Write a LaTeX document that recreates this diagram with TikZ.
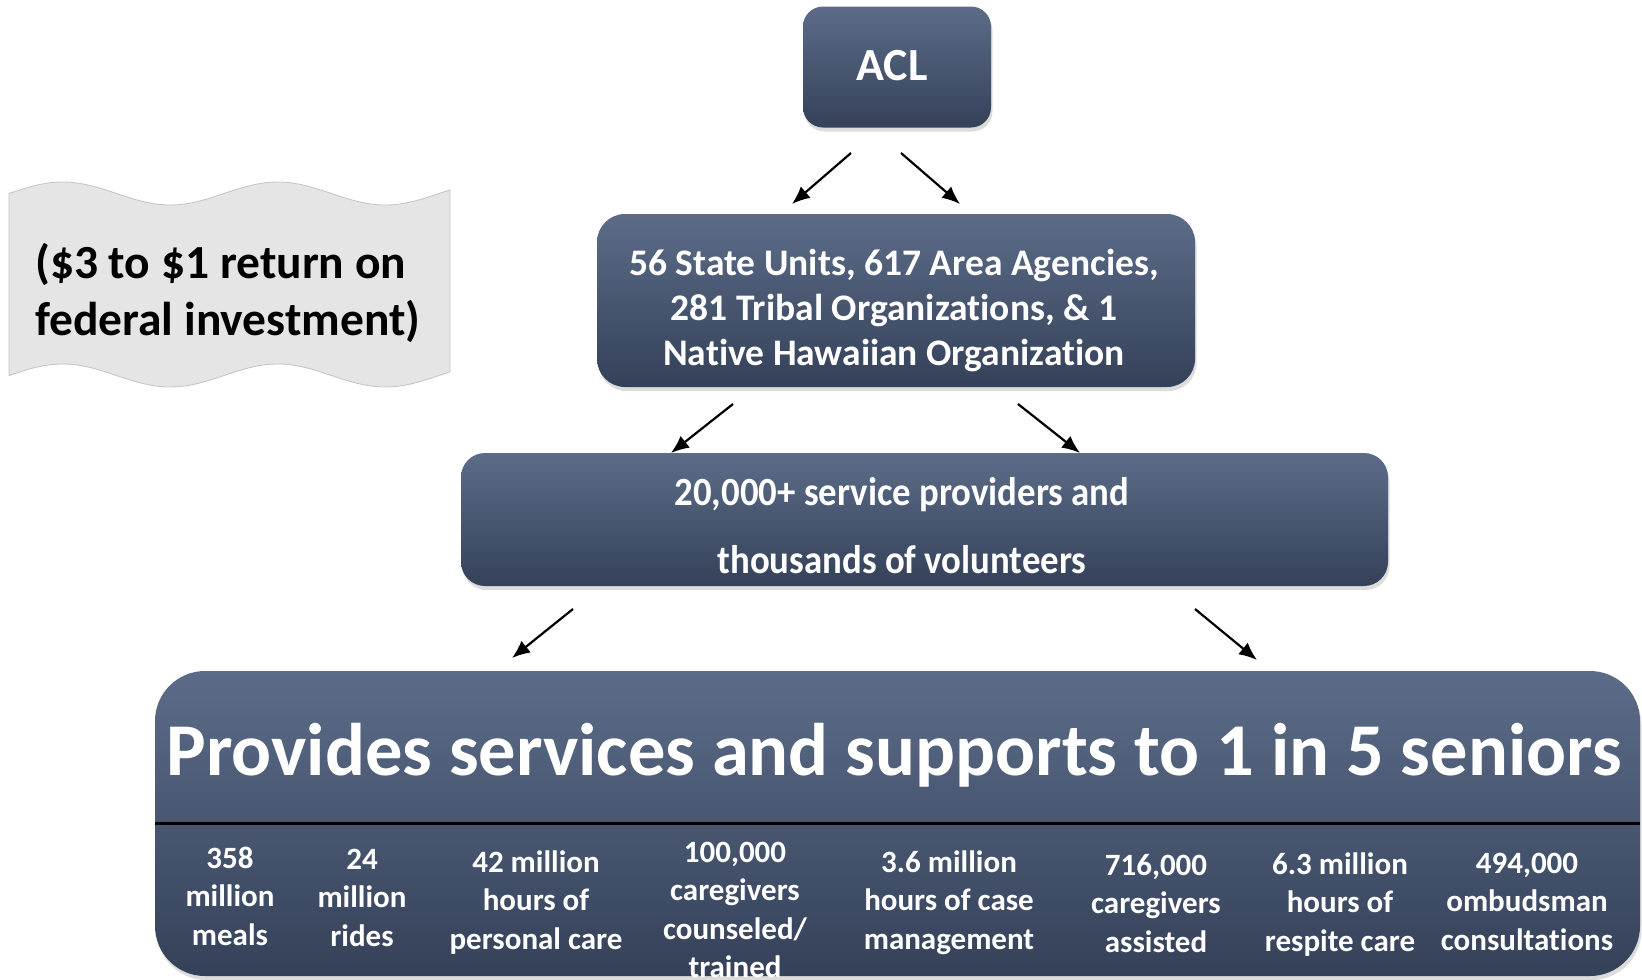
\documentclass[tikz,border=0pt]{standalone}
\usepackage{fontspec}
\setmainfont{Carlito}[Ligatures=NoCommon]
\newfontfamily\condfont{Carlito}[FakeStretch=0.92,Ligatures=NoCommon]
\usetikzlibrary{arrows.meta,shadows}
\definecolor{boxtop}{RGB}{92,108,136}
\definecolor{boxbot}{RGB}{53,65,89}
\definecolor{flaggray}{RGB}{229,229,229}
\definecolor{flagedge}{RGB}{195,195,195}
\tikzset{
  darkbox/.style={rounded corners=#1, top color=boxtop, bottom color=boxbot, draw=none,
    inner sep=0pt, drop shadow={shadow xshift=1.5pt, shadow yshift=-4pt, opacity=0.28}},
  boxtext/.style={anchor=base, text=white, inner sep=0pt,
    font=\bfseries\fontsize{37.5}{45}\selectfont},
  item/.style={anchor=base, text=white, inner sep=0pt,
    font=\bfseries\fontsize{31}{38.5}\selectfont},
  arr/.style={line width=2.2pt, -{Latex[length=18pt,width=15pt]}},
}
\begin{document}
\begin{tikzpicture}[x=1pt,y=-1pt]
\useasboundingbox (0,0) rectangle (1642,980);
% flag
\path[fill=flaggray, draw=flagedge, line width=0.8pt]
  plot[domain=9:450, samples=90] (\x, {193.5 - 11.5*sin((\x-9)*1.67442)})
  -- plot[domain=450:9, samples=90] (\x, {375.5 - 11.5*sin((\x-9)*1.67442)}) -- cycle;
\node[anchor=base west, inner sep=0pt, font=\bfseries\fontsize{47.5}{57}\selectfont] (ret) at (35,278)
  {\begin{tabular}[t]{@{}l@{}}(\$3 to \$1 return on\\federal investment)\end{tabular}};
% boxes
\node[darkbox=20pt, minimum width=188pt, minimum height=121pt] (acl) at (897,67) {};
\node[anchor=base, text=white, inner sep=0pt, font=\bfseries\fontsize{46}{55}\selectfont] (acltext) at (892,80) {ACL};
\node[darkbox=28pt, minimum width=598pt, minimum height=173pt] (states) at (896,300.5) {};
\node[boxtext] (statestext) at (894,275)
  {\begin{tabular}[t]{@{}c@{}}56 State Units, 617 Area Agencies,\\281 Tribal Organizations, \& 1\\Native Hawaiian Organization\end{tabular}};
\node[darkbox=24pt, minimum width=927pt, minimum height=133pt] (prov) at (924.5,519.5) {};
\node[anchor=base, text=white, inner sep=0pt, font=\condfont\bfseries\fontsize{40}{68}\selectfont] (provtext) at (902,505)
  {\begin{tabular}[t]{@{}c@{}}20,000+ service providers and\\thousands of volunteers\end{tabular}};
\node[darkbox=50pt, minimum width=1485pt, minimum height=305pt] (bot) at (897.5,823.5) {};
\node[anchor=base, text=white, inner sep=0pt, font=\bfseries\fontsize{74.5}{88}\selectfont] (head) at (894,775)
  {Provides services and supports to 1 in 5 seniors};
\draw[line width=3pt] (155,823) -- (1640,823);
% columns
\node[item] (c1) at (230,868) {\begin{tabular}[t]{@{}c@{}}358\\million\\meals\end{tabular}};
\node[item] (c2) at (362,869) {\begin{tabular}[t]{@{}c@{}}24\\million\\rides\end{tabular}};
\node[item] (c3) at (536,872) {\begin{tabular}[t]{@{}c@{}}42 million\\hours of\\personal care\end{tabular}};
\node[item] (c4) at (735,862) {\begin{tabular}[t]{@{}c@{}}100,000\\caregivers\\counseled/\\trained\end{tabular}};
\node[item] (c5) at (949,872) {\begin{tabular}[t]{@{}c@{}}3.6 million\\hours of case\\management\end{tabular}};
\node[item] (c6) at (1156,875) {\begin{tabular}[t]{@{}c@{}}716,000\\caregivers\\assisted\end{tabular}};
\node[item] (c7) at (1340,874) {\begin{tabular}[t]{@{}c@{}}6.3 million\\hours of\\respite care\end{tabular}};
\node[item] (c8) at (1527,873) {\begin{tabular}[t]{@{}c@{}}494,000\\ombudsman\\consultations\end{tabular}};
% arrows
\coordinate (a1s) at (851,153); \coordinate (a1e) at (792,204);
\coordinate (a2s) at (901,153); \coordinate (a2e) at (960,204);
\coordinate (a3s) at (733,404); \coordinate (a3e) at (671,453);
\coordinate (a4s) at (1018,404); \coordinate (a4e) at (1080,453);
\coordinate (a5s) at (573,609); \coordinate (a5e) at (512,658);
\coordinate (a6s) at (1195,609); \coordinate (a6e) at (1257,660);
\draw[arr] (a1s) -- (a1e);
\draw[arr] (a2s) -- (a2e);
\draw[arr] (a3s) -- (a3e);
\draw[arr] (a4s) -- (a4e);
\draw[arr] (a5s) -- (a5e);
\draw[arr] (a6s) -- (a6e);
\end{tikzpicture}
\end{document}
